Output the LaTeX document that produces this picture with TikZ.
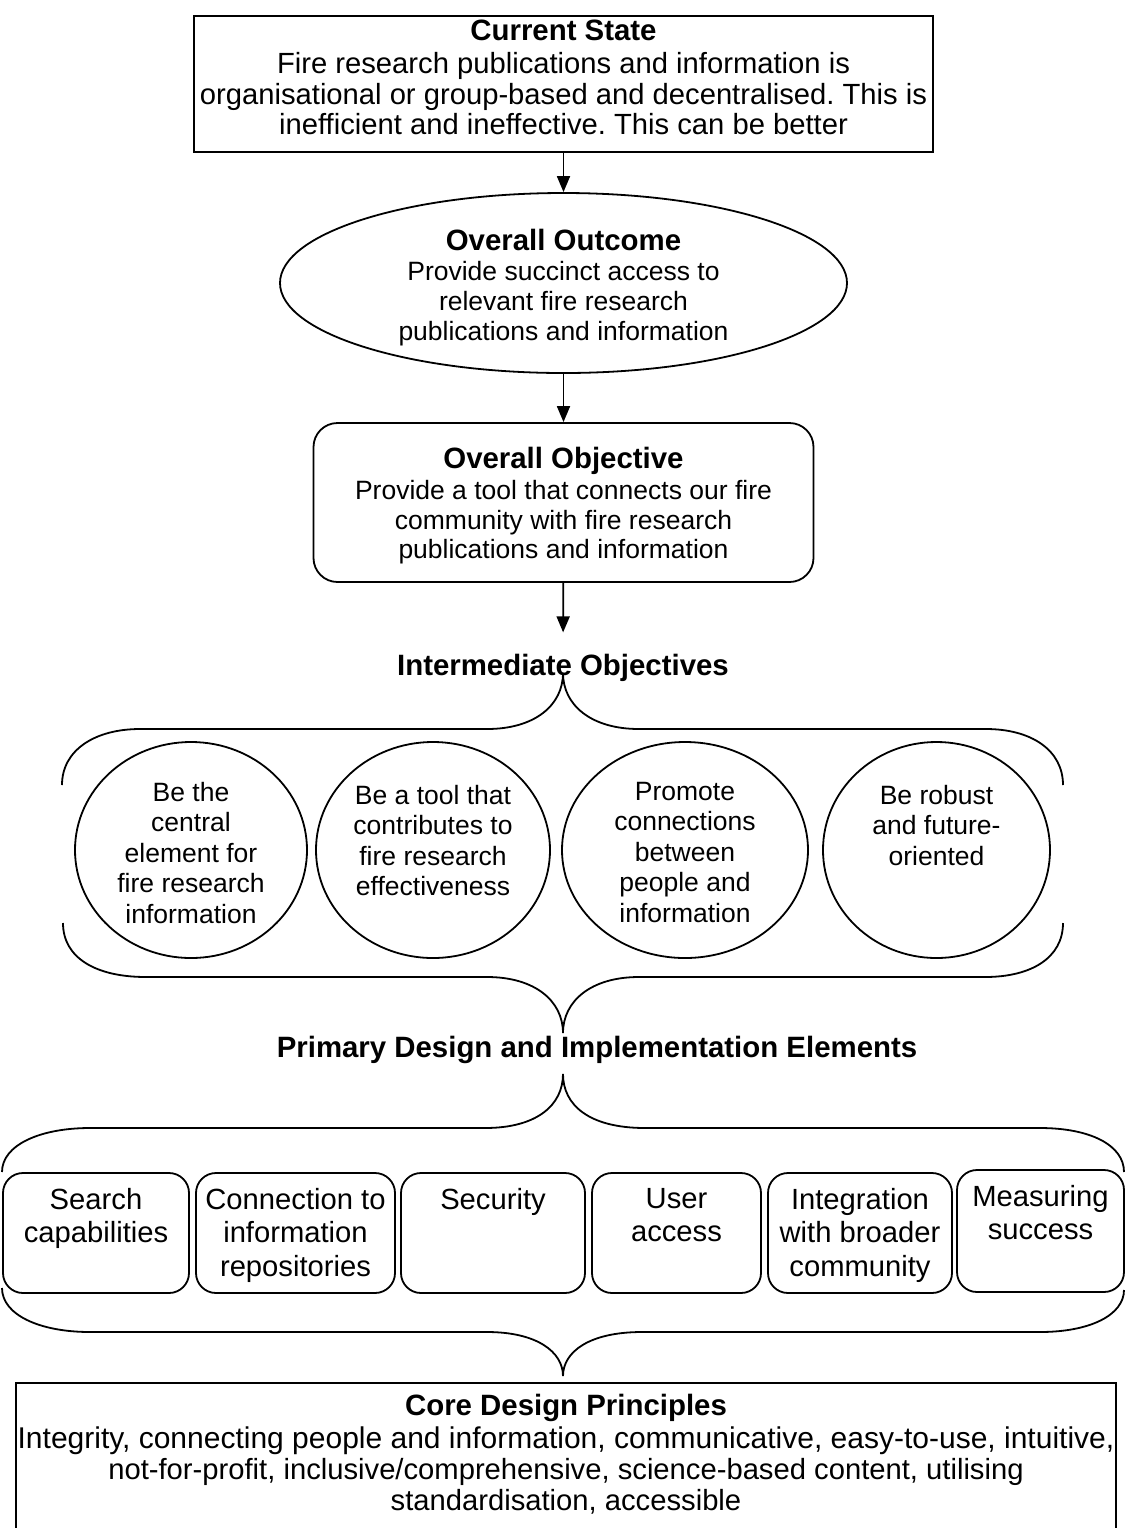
\documentclass[tikz,border=0pt]{standalone}
\usepackage{fontspec}
\setmainfont{Liberation Sans}
\usetikzlibrary{arrows.meta,shapes.geometric}
\frenchspacing

\newcommand{\topbox}[4]{\parbox[c][#2][t]{#1}{\centering\vspace*{#3}#4}}
\newcommand{\headline}[1]{{\fontsize{14.7}{15}\selectfont\bfseries #1}}

\begin{document}
\begin{tikzpicture}[
    x=0.5pt, y=-0.5pt,
    line width=0.9pt,
    box/.style={rectangle, draw, inner sep=0pt, font=\fontsize{14.6}{15.25}\selectfont},
    outcome/.style={ellipse, draw, inner xsep=0pt, inner ysep=-1pt, align=center,
                    font=\fontsize{13.25}{15}\selectfont},
    objbox/.style={rectangle, draw, rounded corners=12pt, inner sep=0pt,
                   font=\fontsize{13.25}{14.9}\selectfont},
    goal/.style={ellipse, draw, inner sep=0pt, minimum height=108pt,
                 font=\fontsize{13.25}{15.25}\selectfont},
    elem/.style={rectangle, draw, rounded corners=10pt, inner sep=0pt,
                 font=\fontsize{14.6}{16.75}\selectfont},
    title/.style={inner sep=0pt, font=\fontsize{14.7}{15}\selectfont\bfseries},
    >={Triangle[width=6.5pt,length=8pt]}
]
\useasboundingbox (0,0) rectangle (1126,1528);

% --- Top chain: current state -> outcome -> objective ---
\node[box] (cur) at (563.5,84)
  {\topbox{369.5pt}{68pt}{1.75pt}{\headline{Current State}\\[1.5pt]
   Fire research publications and information is\\
   organisational or group-based and decentralised. This is\\
   inefficient and ineffective. This can be better}};
\node[outcome, minimum width=283.5pt, minimum height=90pt] (outc) at (563.5,283)
  {\headline{\rule{0pt}{15.7pt}Overall Outcome}\\ Provide succinct access to\\
   relevant fire research\\ publications and information};
\node[objbox, minimum width=250pt, minimum height=79.5pt] (obj) at (563.5,502.5)
  {\topbox{250pt}{79.5pt}{12pt}{\headline{Overall Objective}\\[0.6pt]
   Provide a tool that connects our fire\\
   community with fire research\\ publications and information}};

\draw[->] (cur) -- (outc);
\draw[->] (outc) -- (obj);

% --- Intermediate objectives ---
\node[title] (inter) at (563,668) {Intermediate Objectives};
\draw[->, shorten >=10.5pt] (obj) -- (inter);

\node[goal, minimum width=116pt] (io1) at (191,850)
  {\topbox{80pt}{74pt}{3pt}{Be the\\ central\\ element for\\ fire research\\ information}};
\node[goal, minimum width=117pt] (io2) at (433,850)
  {\topbox{80pt}{74pt}{4.5pt}{Be a tool that\\ contributes to\\ fire research\\ effectiveness}};
\node[goal, minimum width=123pt] (io3) at (685,850)
  {\topbox{80pt}{74pt}{3pt}{Promote\\ connections\\ between\\ people and\\ information}};
\node[goal, minimum width=113.5pt] (io4) at (936.5,850)
  {\topbox{80pt}{74pt}{4.5pt}{Be robust\\ and future-\\ oriented}};

% braces round the four circles
\draw (62,785) .. controls (62,750) and (95,729) .. (140,729) -- (487,729)
  .. controls (535,729) and (563,705) .. (563,673)
  .. controls (563,705) and (591,729) .. (639,729) -- (986,729)
  .. controls (1031,729) and (1063,750) .. (1063,785);
\draw (63,923) .. controls (63,958) and (96,977) .. (146,977) -- (487,977)
  .. controls (535,977) and (563,1001) .. (563,1033)
  .. controls (563,1001) and (591,977) .. (639,977) -- (985,977)
  .. controls (1031,977) and (1063,958) .. (1063,923);

% --- Primary design and implementation elements ---
\node[title] (prim) at (597,1050) {Primary Design and Implementation Elements};

\node[elem] (pe1) at (96,1233)
  {\topbox{93pt}{60pt}{7.5pt}{Search\\ capabilities}};
\node[elem] (pe2) at (295.5,1233)
  {\topbox{99.5pt}{60pt}{7.5pt}{Connection to\\ information\\ repositories}};
\node[elem] (pe3) at (493,1233)
  {\topbox{92pt}{60pt}{7.5pt}{Security}};
\node[elem] (pe4) at (676.5,1233)
  {\topbox{84.5pt}{60pt}{7.5pt}{User\\ access}};
\node[elem] (pe5) at (860,1233)
  {\topbox{92pt}{60pt}{7.5pt}{Integration\\ with broader\\ community}};
\node[elem] (pe6) at (1040.5,1231)
  {\topbox{83.5pt}{61pt}{7.5pt}{Measuring\\ success}};

% braces round the six boxes
\draw (2,1172) .. controls (2,1145) and (40,1128) .. (90,1128) -- (485,1128)
  .. controls (537,1128) and (563,1105) .. (563,1074)
  .. controls (563,1105) and (589,1128) .. (645,1128) -- (1040,1128)
  .. controls (1090,1128) and (1124,1145) .. (1124,1172);
\draw (2,1288) .. controls (2,1315) and (40,1332) .. (90,1332) -- (487,1332)
  .. controls (537,1332) and (563,1352) .. (563,1376)
  .. controls (563,1352) and (589,1332) .. (642,1332) -- (1040,1332)
  .. controls (1090,1332) and (1124,1315) .. (1124,1290);

% --- Core design principles ---
\node[box, font=\fontsize{14.6}{15.5}\selectfont] (core) at (566,1457.5)
  {\topbox{550pt}{74.5pt}{5.5pt}{\headline{Core Design Principles}\\[1pt]
   \makebox[0pt]{\fontsize{15}{15.5}\selectfont Integrity, connecting people and information, communicative, easy-to-use, intuitive,}\\
   not-for-profit, inclusive/comprehensive, science-based content, utilising\\
   standardisation, accessible}};
\end{tikzpicture}
\end{document}
